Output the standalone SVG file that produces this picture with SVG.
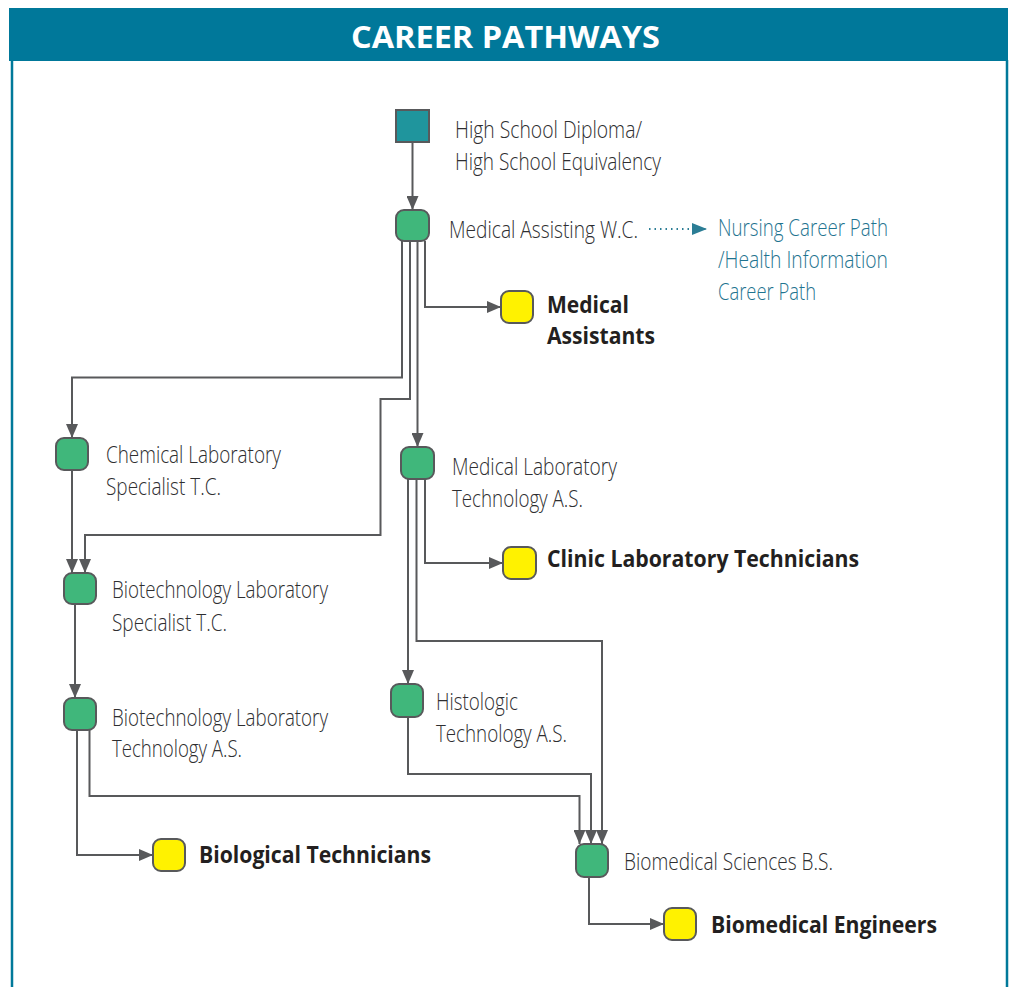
<svg xmlns="http://www.w3.org/2000/svg" width="1013" height="987" viewBox="0 0 1013 987">
<style>
.hdr{fill:#00789a}
.bord{stroke:#00799a;stroke-width:2.5;fill:none}
.title{font-family:"Open Sans","Liberation Sans",sans-serif;font-weight:700;font-size:31px;fill:#ffffff}
.lbl{font-family:"Open Sans","Liberation Sans",sans-serif;font-weight:300;font-size:24px;fill:#2e2e30}
.out{font-family:"Open Sans","Liberation Sans",sans-serif;font-weight:700;font-size:24px;fill:#231f20}
.link{font-family:"Open Sans","Liberation Sans",sans-serif;font-weight:300;font-size:24px;fill:#1f7490}
.start{fill:#1f959d;stroke:#58595b;stroke-width:2}
.prog{fill:#40b77b;stroke:#58595b;stroke-width:2}
.job{fill:#fff200;stroke:#58595b;stroke-width:2}
.conn{fill:none;stroke:#58595b;stroke-width:2;marker-end:url(#arr)}
.dot{fill:none;stroke:#2b7d95;stroke-width:2;stroke-dasharray:1.5 4;marker-end:url(#arrT)}
</style>
<defs>
<marker id="arr" markerUnits="userSpaceOnUse" markerWidth="14" markerHeight="12" refX="14" refY="6" orient="auto">
<path d="M0,0 L14,6 L0,12 z" fill="#58595b"/>
</marker>
<marker id="arrT" markerUnits="userSpaceOnUse" markerWidth="15" markerHeight="12" refX="15" refY="6" orient="auto">
<path d="M0,0 L15,6 L0,12 z" fill="#2b7d95"/>
</marker>
</defs>
<g id="frame">
<rect class="hdr" x="9" y="8" width="999" height="53"/>
<line class="bord" x1="12" y1="60" x2="12" y2="987"/>
<line class="bord" x1="1007" y1="60" x2="1007" y2="987"/>
<text class="title" x="351" y="48" textLength="309" lengthAdjust="spacingAndGlyphs">CAREER PATHWAYS</text>
</g>
<g id="connectors">
<path class="conn" d="M412.5,142 V210"/>
<path class="conn" d="M425,241 V307 H501"/>
<path class="conn" d="M402,241 V377.5 H72 V438"/>
<path class="conn" d="M410,241 V399 H380.5 V535 H85 V573"/>
<path class="conn" d="M417.5,241 V447"/>
<path class="conn" d="M72,470 V573"/>
<path class="conn" d="M425,479 V563 H503"/>
<path class="conn" d="M416.5,479 V641 H602 V844"/>
<path class="conn" d="M408,479 V684"/>
<path class="conn" d="M75,604 V698"/>
<path class="conn" d="M77,730 V855 H153"/>
<path class="conn" d="M89.5,730 V796 H579.5 V844"/>
<path class="conn" d="M408,717 V774 H591 V844"/>
<path class="conn" d="M589,877 V924 H664"/>
<path class="dot" d="M649,229 H707"/>
</g>
<g id="hs">
<rect class="start" x="396" y="110" width="33" height="32"/>
<text class="lbl" x="455" y="138" textLength="187" lengthAdjust="spacingAndGlyphs">High School Diploma/</text>
<text class="lbl" x="455" y="170" textLength="206" lengthAdjust="spacingAndGlyphs">High School Equivalency</text>
</g>
<g id="medical-assisting">
<rect class="prog" x="396" y="210" width="33" height="31" rx="8"/>
<text class="lbl" x="449" y="238" textLength="189" lengthAdjust="spacingAndGlyphs">Medical Assisting W.C.</text>
</g>
<g id="nursing">
<text class="link" x="718" y="236" textLength="170" lengthAdjust="spacingAndGlyphs">Nursing Career Path</text>
<text class="link" x="718" y="268" textLength="170" lengthAdjust="spacingAndGlyphs">/Health Information</text>
<text class="link" x="718" y="300" textLength="98" lengthAdjust="spacingAndGlyphs">Career Path</text>
</g>
<g id="medical-assistants">
<rect class="job" x="501" y="291" width="32" height="32" rx="8"/>
<text class="out" x="547" y="313" textLength="82" lengthAdjust="spacingAndGlyphs">Medical</text>
<text class="out" x="547" y="344" textLength="108" lengthAdjust="spacingAndGlyphs">Assistants</text>
</g>
<g id="chemical">
<rect class="prog" x="56" y="438" width="32" height="32" rx="8"/>
<text class="lbl" x="106" y="463" textLength="175" lengthAdjust="spacingAndGlyphs">Chemical Laboratory</text>
<text class="lbl" x="106" y="495" textLength="115" lengthAdjust="spacingAndGlyphs">Specialist T.C.</text>
</g>
<g id="medical-lab">
<rect class="prog" x="401" y="447" width="33" height="32" rx="8"/>
<text class="lbl" x="452" y="475" textLength="165" lengthAdjust="spacingAndGlyphs">Medical Laboratory</text>
<text class="lbl" x="452" y="507" textLength="131" lengthAdjust="spacingAndGlyphs">Technology A.S.</text>
</g>
<g id="clinic-lab">
<rect class="job" x="503" y="547" width="33" height="32" rx="8"/>
<text class="out" x="547" y="567" textLength="312" lengthAdjust="spacingAndGlyphs">Clinic Laboratory Technicians</text>
</g>
<g id="biotech-spec">
<rect class="prog" x="64" y="573" width="32" height="31" rx="8"/>
<text class="lbl" x="112" y="598" textLength="216" lengthAdjust="spacingAndGlyphs">Biotechnology Laboratory</text>
<text class="lbl" x="112" y="631" textLength="115" lengthAdjust="spacingAndGlyphs">Specialist T.C.</text>
</g>
<g id="histologic">
<rect class="prog" x="391" y="684" width="32" height="33" rx="8"/>
<text class="lbl" x="436" y="710" textLength="82" lengthAdjust="spacingAndGlyphs">Histologic</text>
<text class="lbl" x="436" y="742" textLength="131" lengthAdjust="spacingAndGlyphs">Technology A.S.</text>
</g>
<g id="biotech-tech">
<rect class="prog" x="64" y="698" width="32" height="32" rx="8"/>
<text class="lbl" x="112" y="726" textLength="216" lengthAdjust="spacingAndGlyphs">Biotechnology Laboratory</text>
<text class="lbl" x="112" y="757" textLength="130" lengthAdjust="spacingAndGlyphs">Technology A.S.</text>
</g>
<g id="biological">
<rect class="job" x="153" y="839" width="32" height="32" rx="8"/>
<text class="out" x="199" y="863" textLength="232" lengthAdjust="spacingAndGlyphs">Biological Technicians</text>
</g>
<g id="biomed-sci">
<rect class="prog" x="576" y="844" width="32" height="33" rx="8"/>
<text class="lbl" x="624" y="870" textLength="209" lengthAdjust="spacingAndGlyphs">Biomedical Sciences B.S.</text>
</g>
<g id="biomed-eng">
<rect class="job" x="664" y="908" width="32" height="32" rx="8"/>
<text class="out" x="711" y="933" textLength="226" lengthAdjust="spacingAndGlyphs">Biomedical Engineers</text>
</g>
</svg>
